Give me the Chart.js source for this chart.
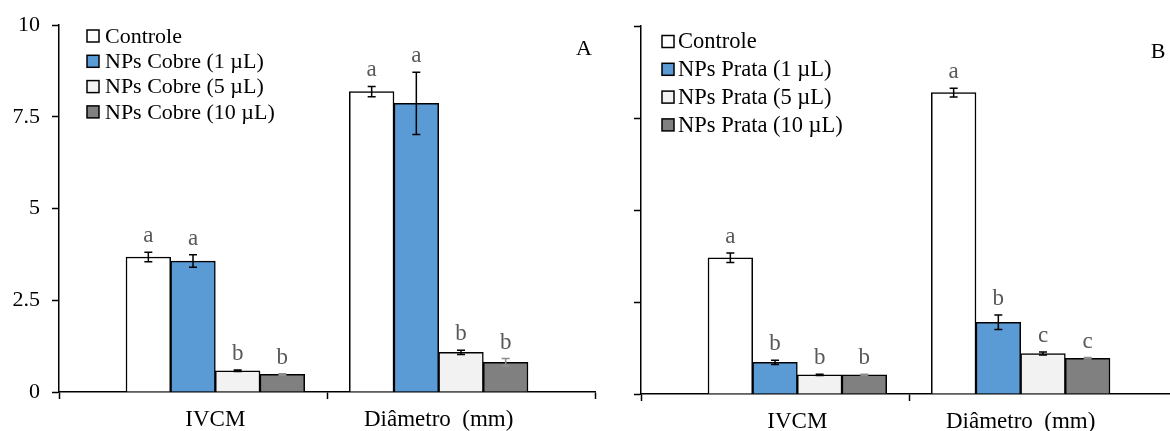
<!DOCTYPE html>
<html>
<head>
<meta charset="utf-8">
<script src="https://cdn.jsdelivr.net/npm/chart.js@4.4.1/dist/chart.umd.min.js"></script>
<style>
  html, body { margin: 0; padding: 0; background: #fff; width: 1170px; height: 431px; overflow: hidden; }
  .painel { position: absolute; top: 0; height: 431px; }
  #painelA { left: 0; width: 610px; }
  #painelB { left: 600px; width: 600px; }
</style>
</head>
<body>
<div class="painel" id="painelA"><canvas id="graficoA" width="610" height="431"></canvas></div>
<div class="painel" id="painelB"><canvas id="graficoB" width="600" height="431"></canvas></div>
<script>
const categorias = ["IVCM", "Diâmetro  (mm)"];
const ticksY = [0, 2.5, 5, 7.5, 10];

const rotulosCobre = ["Controle", "NPs Cobre (1 µL)", "NPs Cobre (5 µL)", "NPs Cobre (10 µL)"];
const rotulosPrata = ["Controle", "NPs Prata (1 µL)", "NPs Prata (5 µL)", "NPs Prata (10 µL)"];

// painel A - cobre  [IVCM, Diâmetro]
const cobreControle = [3.68, 8.19];
const cobre1 = [3.57, 7.87];
const cobre5 = [0.58, 1.08];
const cobre10 = [0.48, 0.81];
const erroCobreControle = [0.13, 0.14];
const erroCobre1 = [0.17, 0.85];
const erroCobre5 = [0.02, 0.06];
const erroCobre10 = [0.02, 0.10];
const letrasCobreControle = ["a", "a"];
const letrasCobre1 = ["a", "a"];
const letrasCobre5 = ["b", "b"];
const letrasCobre10 = ["b", "b"];

// painel B - prata
const prataControle = [3.70, 8.19];
const prata1 = [0.86, 1.95];
const prata5 = [0.52, 1.10];
const prata10 = [0.52, 0.97];
const erroPrataControle = [0.13, 0.12];
const erroPrata1 = [0.06, 0.20];
const erroPrata5 = [0.02, 0.04];
const erroPrata10 = [0.02, 0.02];
const letrasPrataControle = ["a", "a"];
const letrasPrata1 = ["b", "b"];
const letrasPrata5 = ["b", "c"];
const letrasPrata10 = ["b", "c"];

const cores = ["#FFFFFF", "#5B9BD5", "#F2F2F2", "#808080"];
const coresErro = ["#000000", "#000000", "#000000", "#8C8C8C"];

Chart.defaults.font.family = '"Liberation Serif", "Times New Roman", serif';
Chart.defaults.color = "#000";

// cada categoria ocupa 6 posicoes no eixo x, barras de 1 posicao
const larguraCategoria = 6;
function posicao(cat, serie) {
  return 2 + 5 * cat + serie;
}

const barrasDeErro = {
  id: "barrasDeErro",
  afterDatasetsDraw(chart) {
    const ctx = chart.ctx;
    const y = chart.scales.y;
    chart.data.datasets.forEach((ds, di) => {
      const meta = chart.getDatasetMeta(di);
      meta.data.forEach((barra, i) => {
        const v = ds.data[i].y;
        const e = ds.erros[i];
        const topo = y.getPixelForValue(v + e);
        const base = y.getPixelForValue(v - e);
        ctx.save();
        ctx.strokeStyle = ds.corErro;
        ctx.lineWidth = 1.5;
        ctx.beginPath();
        ctx.moveTo(barra.x, topo);
        ctx.lineTo(barra.x, base);
        ctx.moveTo(barra.x - 4, topo);
        ctx.lineTo(barra.x + 4, topo);
        ctx.moveTo(barra.x - 4, base);
        ctx.lineTo(barra.x + 4, base);
        ctx.stroke();
        ctx.fillStyle = "#595959";
        ctx.font = '23px "Liberation Serif", serif';
        ctx.textAlign = "center";
        ctx.textBaseline = "alphabetic";
        ctx.fillText(ds.letras[i], barra.x, topo - 10);
        ctx.restore();
      });
    });
  }
};

const legendaInterna = {
  id: "legendaInterna",
  afterDraw(chart, args, opts) {
    const ctx = chart.ctx;
    ctx.save();
    ctx.font = opts.fonte + 'px "Liberation Serif", serif';
    ctx.textBaseline = "middle";
    ctx.textAlign = "left";
    chart.data.datasets.forEach((ds, i) => {
      const cy = opts.y + i * opts.passo;
      ctx.fillStyle = ds.backgroundColor;
      ctx.fillRect(opts.x, cy - 6, 12, 12);
      ctx.strokeStyle = "#000";
      ctx.lineWidth = 1.5;
      ctx.strokeRect(opts.x, cy - 6, 12, 12);
      ctx.fillStyle = "#000";
      ctx.fillText(ds.label, opts.x + opts.recuo, cy + 1);
    });
    ctx.font = '22px "Liberation Serif", serif';
    ctx.textAlign = "center";
    ctx.fillText(opts.letra, opts.letraX, opts.letraY);
    ctx.restore();
  }
};

function montaGrafico(id, rotulos, valores, erros, letras, cfg) {
  const datasets = rotulos.map((rotulo, s) => ({
    label: rotulo,
    data: valores[s].map((v, c) => ({ x: posicao(c, s), y: v })),
    erros: erros[s],
    letras: letras[s],
    corErro: coresErro[s],
    backgroundColor: cores[s],
    borderColor: "#000",
    borderWidth: 1.5,
    grouped: false,
    barPercentage: 1,
    categoryPercentage: 1
  }));

  const nCat = categorias.length;
  const limites = [];
  for (let c = 0; c <= nCat; c++) limites.push(c * larguraCategoria);
  const centros = categorias.map((_, c) => posicao(c, 1.5));
  const marcasX = limites.concat(centros).sort((a, b) => a - b);

  return new Chart(document.getElementById(id), {
    type: "bar",
    data: { datasets: datasets },
    plugins: [barrasDeErro, legendaInterna],
    options: {
      responsive: false,
      animation: false,
      devicePixelRatio: 1,
      layout: { padding: { top: cfg.topo, right: cfg.direita, left: 0, bottom: 0 } },
      plugins: {
        legend: { display: false },
        tooltip: { enabled: false },
        legendaInterna: cfg.legenda
      },
      scales: {
        x: {
          type: "linear",
          offset: false,
          min: 0,
          max: nCat * larguraCategoria,
          afterBuildTicks: (escala) => {
            escala.ticks = marcasX.map((v) => ({ value: v }));
          },
          afterFit: (escala) => { escala.height = cfg.alturaX; },
          grid: {
            offset: false,
            drawOnChartArea: false,
            tickLength: 7,
            tickWidth: 1.5,
            tickColor: (c) => (c.tick && limites.includes(c.tick.value) ? "#000" : "rgba(0,0,0,0)")
          },
          border: { color: "#000", width: 1.5 },
          ticks: {
            autoSkip: false,
            maxRotation: 0,
            padding: 7,
            font: { size: 23 },
            callback: (valor) => {
              const c = centros.indexOf(valor);
              return c >= 0 ? categorias[c] : "";
            }
          }
        },
        y: {
          min: 0,
          max: 10,
          afterBuildTicks: (escala) => {
            escala.ticks = ticksY.map((v) => ({ value: v }));
          },
          afterFit: (escala) => { escala.width = cfg.larguraY; },
          grid: { drawOnChartArea: false, tickLength: 7, tickWidth: 1.5, tickColor: "#000" },
          border: { color: "#000", width: 1.5 },
          ticks: {
            display: cfg.mostraY,
            padding: 12,
            font: { size: 22 },
            callback: (v) => String(v)
          }
        }
      }
    }
  });
}

montaGrafico("graficoA", rotulosCobre,
  [cobreControle, cobre1, cobre5, cobre10],
  [erroCobreControle, erroCobre1, erroCobre5, erroCobre10],
  [letrasCobreControle, letrasCobre1, letrasCobre5, letrasCobre10],
  {
    topo: 24, direita: 15, alturaX: 39, larguraY: 59, mostraY: true,
    legenda: { x: 87, y: 36, passo: 25.3, recuo: 18, fonte: 22, letra: "A", letraX: 584, letraY: 49 }
  });

montaGrafico("graficoB", rotulosPrata,
  [prataControle, prata1, prata5, prata10],
  [erroPrataControle, erroPrata1, erroPrata5, erroPrata10],
  [letrasPrataControle, letrasPrata1, letrasPrata5, letrasPrata10],
  {
    topo: 26, direita: 23, alturaX: 37, larguraY: 41, mostraY: false,
    legenda: { x: 62, y: 41.5, passo: 27.8, recuo: 16, fonte: 22.5, letra: "B", letraX: 558, letraY: 52 }
  });
</script>
</body>
</html>
